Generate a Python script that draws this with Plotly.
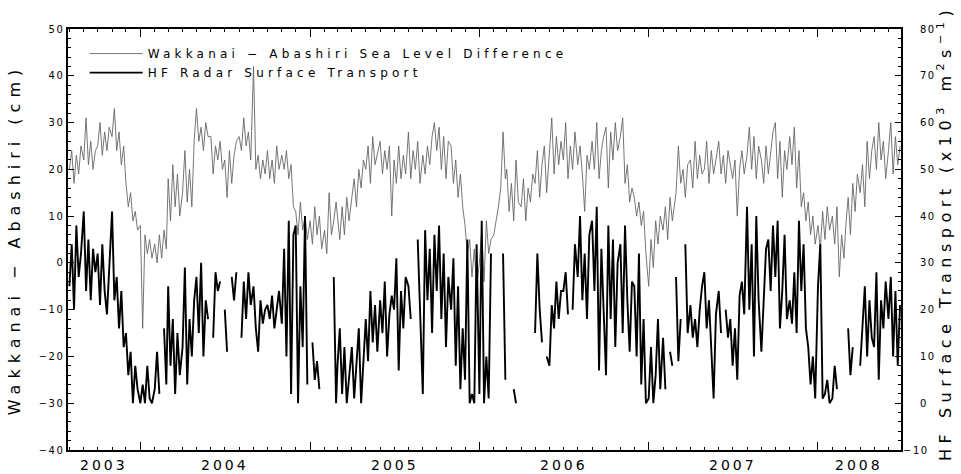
import plotly.graph_objects as go
import pandas as pd

# ---- data: Wakkanai - Abashiri sea level difference (cm), 6 values per month (days 1,6,11,16,21,26)
sl_2003 = [20, 24, 17, 23, 19, 25,  22, 31, 21, 26, 20, 24,  25, 30, 23, 28, 24, 29,
           27, 33, 24, 28, 21, 25,  17, 12, 15, 9, 11, 7]
sl_2004 = [8, -14, 6, 2, 5, 1,  4, 0, 6, 1, 7, 3,  18, 9, 21, 12, 19, 10,  15, 24, 13, 20, 12, 26,
           33, 26, 29, 24, 30, 27,  27, 19, 25, 22, 26, 20,  22, 14, 24, 17, 23, 26,  27, 24, 31, 25, 28, 22,
           42, 20, 23, 18, 22, 19,  24, 18, 22, 17, 25, 20,  23, 20, 24, 18, 21, 12,  11, 6, 13, 7, 10, 5]
sl_2005 = [9, 4, 12, 6, 10, 3,  7, 2, 15, 6, 9, 13,  10, 5, 12, 6, 14, 9,  14, 18, 12, 20, 16, 22,
           20, 25, 17, 27, 21, 23,  26, 19, 24, 20, 25, 10,  22, 17, 25, 18, 23, 19,  28, 18, 24, 20, 26, 17,
           23, 19, 25, 21, 27, 30,  24, 29, 20, 27, 18, 26,  25, 17, 22, 14, 19, 12,  8, 2, 5, -3, 3, -5]
sl_2006 = [0, 7, -4, 9, 2, 5,  6, 9, 12, 16, 28, 18,  20, 11, 17, 9, 22, 13,  12, 18, 9, 16, 13, 19,
           17, 24, 14, 21, 25, 15,  23, 31, 19, 27, 21, 26,  22, 30, 18, 25, 20, 28,  21, 25, 19, 11, 23, 20,
           26, 20, 30, 18, 24, 27,  29, 16, 28, 22, 30, 24,  27, 31, 17, 21, 13, 16,  14, 10, 13, 8, 11, 2]
sl_2007 = [-5, 5, -1, 9, 4, 10,  7, 12, 5, 14, 9, 13,  15, 25, 17, 20, 14, 21,  22, 16, 26, 18, 23, 19,
           20, 26, 17, 24, 19, 22,  26, 19, 23, 17, 24, 21,  18, 22, 10, 20, 24, 19,  23, 29, 20, 27, 18, 25,
           22, 17, 25, 19, 24, 28,  30, 18, 26, 14, 24, 20,  27, 21, 29, 16, 24, 12,  15, 9, 13, 6, 10, 4]
sl_2008 = [8, 3, 11, 5, 12, 7,  10, 4, 12, -3, 6, 1,  8, 14, 6, 17, 11, 19,  15, 21, 12, 26, 18, 24,
           27, 20, 30, 22, 26, 18,  24, 30, 19, 27, 21, 25]

# ---- data: HF radar surface transport (x10^3 m^2 s^-1), None = no data
N = None
hf_2003 = [25, 34, 20, 38, 27, 32,  41, 24, 35, 22, 33, 28,  32, 21, 34, 24, 19, 30,
           41, 22, 27, 16, 24, 12,  15, 6, 11, 0, 8, 3]
hf_2004 = [0, 4, 0, 8, 1, 0,  3, 11, 2, N, 16, 4,  25, 8, 18, 2, 15, 6,  12, 29, 4, 18, 10, 22,
           27, 15, 30, 10, 22, 18,  N, 14, 28, 24, 26, N,  20, 11, N, 27, 22, 28,  N, 14, 26, 18, 28, 21,
           25, 16, 11, 22, 17, 20,  21, 18, 23, 16, 20, 24,  17, 33, 10, 39, 2, 36,  38, 0, 25, 12, 40, 4]
hf_2005 = [N, 13, 5, 9, 3, N,  N, N, N, N, 27, 0,  8, 16, 2, 12, 0, 5,  12, 1, 8, 16, 0, 10,
           18, 9, 24, 13, 21, 11,  22, 15, 26, 10, 19, 23,  20, 31, 7, 24, 16, 27,  25, 18, N, N, 35, 20,
           2, 37, 22, 33, 15, 36,  24, 38, 18, 32, 12, 27,  20, 31, 8, 25, 3, 16,  5, 35, 0, 2, 0, 34]
hf_2006 = [2, 39, 0, 10, 1, 32,  N, N, N, N, 32, 5,  N, N, N, 3, 0, N,  N, N, N, N, N, N,
           15, 32, 20, 13, N, 10,  8, 21, 16, 26, 18, 24,  24, 28, 19, N, 20, 34,  27, 40, 22, 32, 18, 36,
           39, 24, 42, 7, 33, 20,  6, 38, 18, 35, 12, 30,  34, 15, 38, 22, 11, 26,  25, 10, 32, 4, 18, 0]
hf_2007 = [1, 12, 0, 6, 18, 3,  14, 3, N, 11, 8, N,  27, 9, 18, N, 34, 15,  21, 14, 18, 12, 20, 25,
           28, 16, 22, 10, 1, 19,  24, 15, N, 20, 14, 18,  8, 16, 5, 23, 26, 19,  42, 20, 34, 10, 40, 22,
           11, 22, 33, 35, 24, 38,  27, 39, 16, 24, 36, 18,  22, 17, 28, 15, 39, 24,  34, 16, 12, 4, 10, 1]
hf_2008 = [25, 34, 1, 2, 5, 0,  1, 8, 3, N, N, N,  N, 16, 6, 12, N, N,  8, 18, 25, 10, 22, 14,
           12, 28, 5, 22, 16, 26,  18, 27, 10, 24, 8, 21]

year_labels = ["2003", "2004", "2005", "2006", "2007", "2008"]
left_ticks = [-40, -30, -20, -10, 0, 10, 20, 30, 40, 50]
right_ticks = [-10, 0, 10, 20, 30, 40, 50, 60, 70, 80]
x_start, x_end = "2003-07-29", "2008-06-28"
month_days = [1, 6, 11, 16, 21, 26]


def build_dates(first_year, first_month, n_values):
    out = []
    y, m = first_year, first_month
    while len(out) < n_values:
        for d in month_days:
            out.append(f"{y:04d}-{m:02d}-{d:02d}")
        m += 1
        if m > 12:
            m, y = 1, y + 1
    return out[:n_values]


sl = sl_2003 + sl_2004 + sl_2005 + sl_2006 + sl_2007 + sl_2008
hf = hf_2003 + hf_2004 + hf_2005 + hf_2006 + hf_2007 + hf_2008
dates = build_dates(2003, 8, len(sl))

FONT = "DejaVu Sans"


def sp(text, px):
    return f'<span style="letter-spacing:{px}px">{text}</span>'


def fmt(v):
    return ("\u2212" + str(-v)) if v < 0 else str(v)


fig = go.Figure()
fig.add_trace(go.Scatter(x=dates, y=sl, mode="lines", name=sp("Wakkanai \u2212 Abashiri Sea Level Difference", 4.2),
                         line=dict(color="#666666", width=0.9), yaxis="y"))
fig.add_trace(go.Scatter(x=dates, y=hf, mode="lines", name=sp("HF Radar Surface Transport", 4.2),
                         line=dict(color="#000000", width=1.9), connectgaps=False, yaxis="y2"))

ann = []
# year labels centred in the visible part of each year
s, e = pd.Timestamp(x_start), pd.Timestamp(x_end)
for lab in year_labels:
    a = max(s, pd.Timestamp(f"{lab}-01-01"))
    b = min(e, pd.Timestamp(f"{int(lab) + 1}-01-01"))
    mid = (a + (b - a) / 2).strftime("%Y-%m-%d %H:%M")
    ann.append(dict(x=mid, y=-0.036, xref="x", yref="paper", text=sp(lab, 3), showarrow=False,
                    xanchor="center", yanchor="middle", font=dict(family=FONT, size=14, color="black")))
# right-axis tick labels (digits aligned, minus sign hanging left)
for v in right_ticks:
    ann.append(dict(x=1.0204 if v >= 0 else 1.0366, y=v, xref="paper", yref="y2", text=sp(fmt(v), 1.5),
                    showarrow=False, xanchor="left" if v >= 0 else "right", yanchor="middle",
                    font=dict(family=FONT, size=10, color="black")))
ann.append(dict(x=-0.064, y=0.50, xref="paper", yref="paper", textangle=-90, showarrow=False,
                text=sp("Wakkanai \u2212 Abashiri (cm)", 6), xanchor="center", yanchor="middle",
                font=dict(family=FONT, size=16, color="black")))
ann.append(dict(x=1.053, y=0.516, xref="paper", yref="paper", textangle=-90, showarrow=False,
                text=sp("HF Surface Transport (x10<sup>3</sup> m<sup>2</sup>s<sup>\u22121</sup>)", 5.5),
                xanchor="center", yanchor="middle", font=dict(family=FONT, size=16, color="black")))

fig.update_layout(
    width=961, height=474,
    margin=dict(l=68, r=60, t=29, b=24),
    paper_bgcolor="white", plot_bgcolor="white",
    font=dict(family=FONT, color="black"),
    showlegend=True,
    legend=dict(x=0.02, y=0.976, xanchor="left", yanchor="top", bgcolor="rgba(0,0,0,0)",
                font=dict(family=FONT, size=12, color="black"), tracegroupgap=0, itemwidth=53),
    annotations=ann,
    xaxis=dict(type="date", range=[x_start, x_end], showgrid=False, zeroline=False,
               showline=True, linecolor="black", linewidth=1.5, mirror="ticks",
               ticks="inside", tick0="2004-01-01", dtick="M12", ticklen=8, tickwidth=1.2, tickcolor="black",
               showticklabels=False,
               minor=dict(ticks="inside", dtick="M1", tick0="2004-01-01", ticklen=3, tickwidth=1, tickcolor="black")),
    yaxis=dict(range=[-40, 50], showgrid=False, zeroline=False, showline=True, linecolor="black",
               linewidth=1.5, mirror=True, ticks="inside", ticklen=6, tickwidth=1.2, tickcolor="black",
               tickvals=left_ticks, ticktext=[sp(fmt(v), 1.5) for v in left_ticks],
               tickfont=dict(family=FONT, size=10, color="black"), ticklabelstandoff=0,
               minor=dict(ticks="inside", dtick=2, tick0=0, ticklen=3, tickwidth=1, tickcolor="black")),
    yaxis2=dict(range=[-10, 80], overlaying="y", side="right", showgrid=False, zeroline=False,
                showline=True, linecolor="black", linewidth=1.5, ticks="inside", ticklen=6, tickwidth=1.2,
                tickcolor="black", tickvals=right_ticks, showticklabels=False,
                minor=dict(ticks="inside", dtick=2, tick0=0, ticklen=3, tickwidth=1, tickcolor="black")),
)

fig.write_html("out.html")
